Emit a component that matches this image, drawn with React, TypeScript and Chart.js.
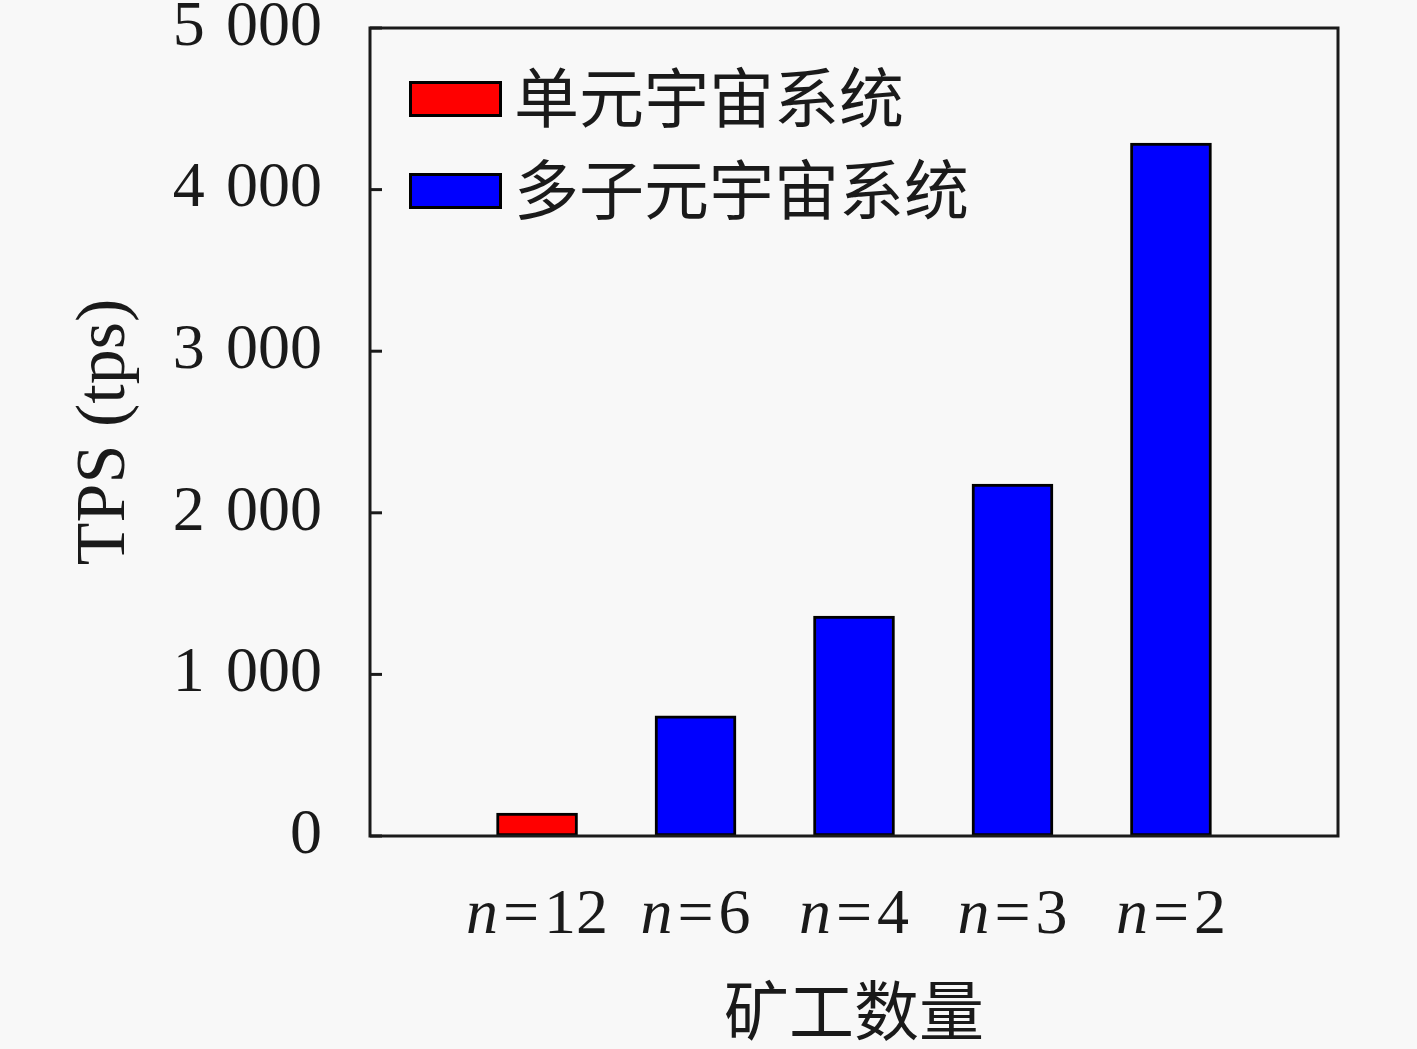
import { useEffect, useRef } from "react";
import { Chart, registerables } from "chart.js";

Chart.register(...registerables);

// miner count per category (x axis), left to right
const minerCounts = ["12", "6", "4", "3", "2"];
// TPS
const singleSystemTps = [142]; // n=12
const multiSystemTps = [743, 1361, 2178, 4288]; // n=6, 4, 3, 2
const yTickValues = [0, 1000, 2000, 3000, 4000, 5000];
const seriesNames = ["单元宇宙系统", "多子元宇宙系统"];
const seriesColors = ["#ff0000", "#0000ff"];

const SERIF = "'Liberation Serif', 'DejaVu Serif', serif";
const CJK = "'Noto Sans CJK SC', sans-serif";
const INK = "#1a1a1a";

const fmtThousands = (v: number) =>
  String(v).replace(/\B(?=(\d{3})+(?!\d))/g, "\u2004");

const framePlugin = {
  id: "frameAndLabels",
  beforeDraw(chart: any) {
    const { ctx, width, height } = chart;
    ctx.save();
    ctx.fillStyle = "#f8f8f8";
    ctx.fillRect(0, 0, width, height);
    ctx.restore();
  },
  afterDatasetsDraw(chart: any) {
    const { ctx, chartArea } = chart;
    const { left, right, top, bottom } = chartArea;
    const x = chart.scales.x;
    const y = chart.scales.y;
    ctx.save();

    // axes box
    ctx.strokeStyle = INK;
    ctx.lineWidth = 3;
    ctx.strokeRect(left, top, right - left, bottom - top);

    // inner ticks on the left axis
    yTickValues.forEach((v) => {
      const py = y.getPixelForValue(v);
      ctx.beginPath();
      ctx.moveTo(left, py);
      ctx.lineTo(left + 12, py);
      ctx.stroke();
    });

    // x labels: italic n, upright "=k"
    ctx.fillStyle = INK;
    ctx.textBaseline = "alphabetic";
    ctx.textAlign = "left";
    const gap = 5;
    const upright = `64px ${SERIF}`;
    const italic = `italic 64px ${SERIF}`;
    minerCounts.forEach((c, i) => {
      const cx = x.getPixelForValue(i + 1);
      ctx.font = italic;
      const wn = ctx.measureText("n").width;
      ctx.font = upright;
      const we = ctx.measureText("=").width;
      const wc = ctx.measureText(c).width;
      let sx = cx - (wn + we + wc + 2 * gap) / 2;
      const by = bottom + 97;
      ctx.font = italic;
      ctx.fillText("n", sx, by);
      sx += wn + gap;
      ctx.font = upright;
      ctx.fillText("=", sx, by);
      sx += we + gap;
      ctx.fillText(c, sx, by);
    });

    // legend in the upper left of the plot
    const boxW = 93;
    const boxH = 36;
    const rowGap = 92;
    chart.data.datasets.forEach((ds: any, i: number) => {
      const bx = left + 39;
      const cy = top + 71 + i * rowGap;
      ctx.fillStyle = ds.backgroundColor;
      ctx.fillRect(bx, cy - boxH / 2, boxW, boxH);
      ctx.strokeStyle = "#000";
      ctx.lineWidth = 3;
      ctx.strokeRect(bx + 1.5, cy - boxH / 2 + 1.5, boxW - 3, boxH - 3);
      ctx.fillStyle = INK;
      ctx.font = `65px ${CJK}`;
      ctx.textBaseline = "middle";
      ctx.fillText(ds.label, bx + boxW + 12, cy - 2);
    });

    ctx.restore();
  },
};

const App = () => {
  const canvasRef = useRef<HTMLCanvasElement>(null);

  useEffect(() => {
    const ctx = canvasRef.current?.getContext("2d");
    if (!ctx) return;

    const chart = new Chart(ctx, {
      type: "bar",
      data: {
        datasets: [
          {
            label: seriesNames[0],
            data: singleSystemTps.map((v, i) => ({ x: i + 1, y: v })),
            backgroundColor: seriesColors[0],
          },
          {
            label: seriesNames[1],
            data: multiSystemTps.map((v, i) => ({ x: i + 2, y: v })),
            backgroundColor: seriesColors[1],
          },
        ],
      },
      options: {
        animation: false,
        responsive: false,
        devicePixelRatio: 1,
        layout: { padding: { top: 28, right: 79, left: 0, bottom: 0 } },
        datasets: {
          bar: {
            barThickness: 81,
            borderColor: "#000",
            borderWidth: 3,
            borderSkipped: false,
          },
        },
        plugins: {
          legend: { display: false },
          tooltip: { enabled: false },
        },
        scales: {
          x: {
            type: "linear",
            stacked: true,
            offset: false,
            min: 1 - 1.054,
            max: minerCounts.length + 1.054,
            grid: { display: false, offset: false },
            border: { display: false },
            ticks: { display: false },
            title: {
              display: true,
              text: "矿工数量",
              color: INK,
              font: { family: CJK, size: 65 },
              padding: 0,
            },
            afterFit: (s: any) => {
              s.height = 213;
            },
          },
          y: {
            stacked: true,
            min: 0,
            max: 5000,
            grid: { display: false, drawTicks: false },
            border: { display: false },
            afterBuildTicks: (s: any) => {
              s.ticks = yTickValues.map((v) => ({ value: v }));
            },
            ticks: {
              padding: 48,
              color: INK,
              font: { family: SERIF, size: 64, lineHeight: 0.8 },
              callback: (v: any) => fmtThousands(Number(v)),
            },
            title: {
              display: true,
              text: "TPS (tps)",
              color: INK,
              font: { family: SERIF, size: 70, lineHeight: 1 },
              padding: { top: 71, bottom: 0 },
            },
            afterFit: (s: any) => {
              s.width = 370;
              s.paddingTop = 0;
              s.paddingBottom = 0;
            },
          },
        },
      },
      plugins: [framePlugin],
    });

    return () => {
      chart.destroy();
    };
  }, []);

  return (
    <div style={{ position: "fixed", left: 0, top: 0, width: 1417, height: 1049 }}>
      <canvas ref={canvasRef} width={1417} height={1049}></canvas>
    </div>
  );
};

export default App;
